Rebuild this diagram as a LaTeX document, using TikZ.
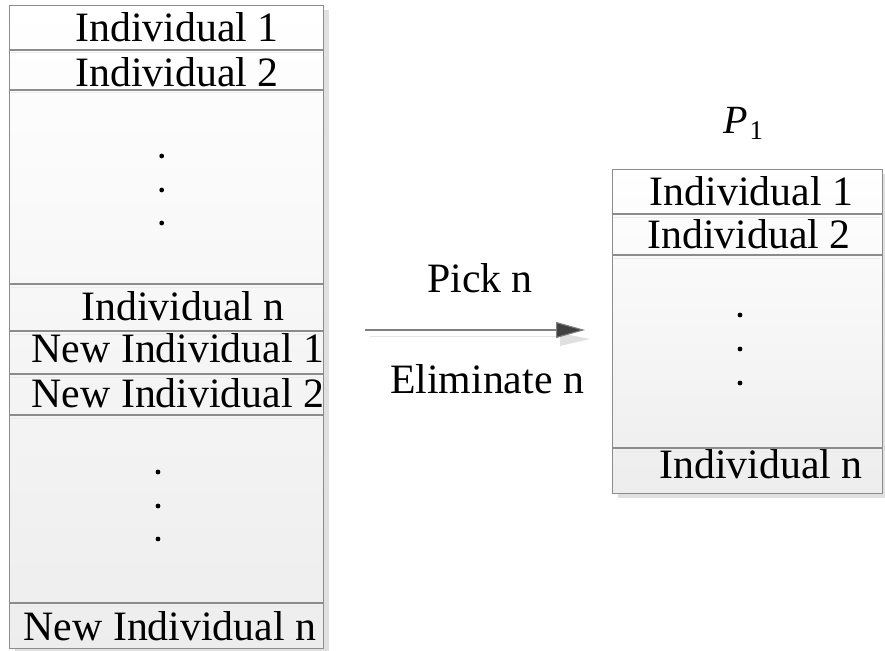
\documentclass[tikz,border=0pt]{standalone}
\usepackage{fontspec}
\setmainfont{Liberation Serif}
\usetikzlibrary{shadows,arrows.meta}
\definecolor{edge}{HTML}{8C8C8C}
\definecolor{headc}{HTML}{404040}
\tikzset{
  box/.style={draw=edge, line width=1.3pt, inner sep=0pt, anchor=north west,
    top color=white, bottom color=black!7,
    drop shadow={shadow xshift=5pt, shadow yshift=-4pt, fill=black!12, opacity=1}},
  rowline/.style={draw=edge, line width=1.1pt},
  rowshade/.style={draw=black!8, line width=1pt},
  lbl/.style={anchor=base, inner sep=0pt, font=\fontsize{41.8}{48}\selectfont},
  dotc/.style={fill=black},
  arr/.style={draw=black!50, line width=1.1pt, -{Triangle[length=29pt,width=16pt,fill=headc]}},
}
\begin{document}
\begin{tikzpicture}[x=1pt,y=-1pt]
\useasboundingbox (0,0) rectangle (885,650);
% left box
\node[box, minimum width=314pt, minimum height=643pt] (L) at (9,5) {};
\foreach \y in {50,90,284,331,374,415,603}{
  \draw[rowshade] (11,\y+3) -- (321,\y+3);
  \draw[rowline] (9,\y) -- (323,\y);
}
\node[lbl] (l1) at (177,42) {Individual 1};
\node[lbl] (l2) at (177,87) {Individual 2};
\node[lbl] (ln) at (183,320) {Individual n};
\node[lbl] (nl1) at (178,362) {New Individual 1};
\node[lbl] (nl2) at (178,407) {New Individual 2};
\node[lbl] (nln) at (170,640) {New Individual n};
\foreach \y in {156,190,223}{\fill[dotc] (161.7,\y) circle (2.4);}
\foreach \y in {472,506,539}{\fill[dotc] (158,\y) circle (2.4);}
% right box
\node[box, minimum width=270pt, minimum height=324pt] (R) at (612,169) {};
\foreach \y in {214,255,448}{
  \draw[rowshade] (614,\y+3) -- (880,\y+3);
  \draw[rowline] (612,\y) -- (882,\y);
}
\node[lbl] (r1) at (751.5,205) {Individual 1};
\node[lbl] (r2) at (749,248) {Individual 2};
\node[lbl] (rn) at (761,478) {Individual n};
\foreach \y in {315,349,383}{\fill[dotc] (740,\y) circle (2.4);}
\node[anchor=base west, inner sep=0pt] (P) at (723,133) {{\fontsize{40}{40}\selectfont\itshape P}\hspace{2pt}\raisebox{-6pt}{\fontsize{27}{27}\selectfont 1}};
% arrow
\coordinate (a1) at (365,330);
\coordinate (a2) at (585,330);
\draw[black!10, line width=1pt] (370,336) -- (560,336);
\fill[black!12] (560,333) -- (590,339) -- (560,346) -- cycle;
\draw[arr] (a1) -- (a2);
\node[lbl] (pick) at (480,292) {Pick n};
\node[lbl] (elim) at (487,393) {Eliminate n};
\end{tikzpicture}
\end{document}
